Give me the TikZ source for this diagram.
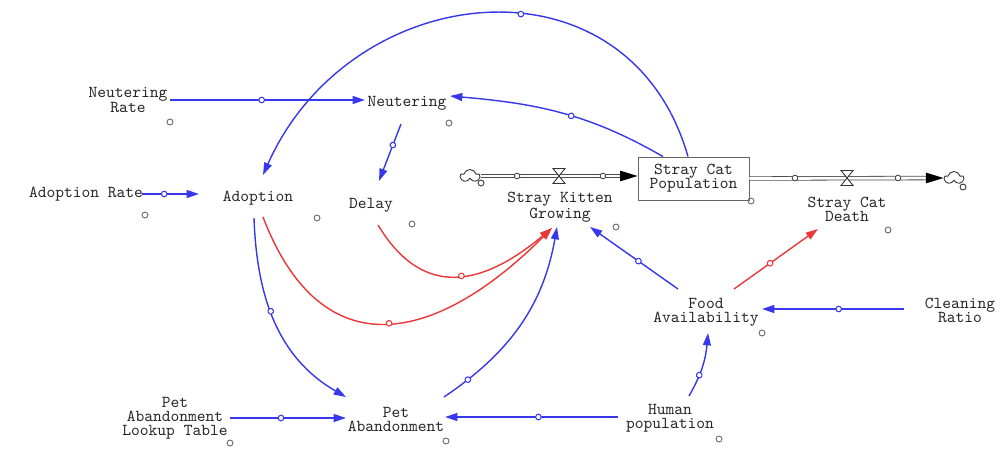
\documentclass[tikz,border=0pt]{standalone}
\usepackage{fontspec}
\usetikzlibrary{arrows.meta,shapes.symbols,decorations.markings}
\definecolor{linkBlue}{RGB}{55,55,235}
\definecolor{linkRed}{RGB}{235,55,55}
\definecolor{hintGray}{RGB}{100,100,100}

\begin{document}
\begin{tikzpicture}[x=0.02cm, y=0.02cm,
    every node/.style={font=\ttfamily\fontsize{9.5}{8.0}\selectfont, text=black!85},
    var/.style={align=center, inner sep=1pt},
    stock/.style={draw=black!60, line width=0.5pt, fill=white, align=center,
      minimum width=2.22cm, minimum height=0.86cm, inner sep=0pt},
    sink/.style={cloud, cloud puffs=5, draw=black!80, line width=0.5pt, fill=white,
      inner sep=0pt, minimum width=0.38cm, minimum height=0.26cm},
    hint/.style={circle, draw=hintGray, line width=0.5pt, inner sep=0pt, minimum size=3.4pt},
    pipe/.style={draw=black!70, line width=0.45pt, double=white, double distance=1.6pt},
    pipetip/.style={-{Triangle[length=10pt,width=6pt]}, black, line width=0.5pt},
    hub/.style={draw=black!70, fill=white, line width=0.5pt},
    valve/.style={draw=black!80, fill=white, line width=0.5pt},
    link/.style={line width=0.8pt, -{Triangle[length=7pt,width=4.5pt]},
      postaction={decorate, decoration={markings, mark=at position #1 with
        {\draw[-, fill=white, line width=0.6pt] (0,0) circle (1.6pt);}}}},
    link/.default=0.5
  ]
  \useasboundingbox (0,0) rectangle (1004,-450);

  % Variables
  \node[var] (nr) at (128,-100) {Neutering\\Rate};
  \node[var] (ne) at (407,-103) {Neutering};
  \node[var] (ar) at (86,-194) {Adoption Rate};
  \node[var] (ad) at (258,-198) {Adoption};
  \node[var] (de) at (371,-205) {Delay};
  \node[var] (kg) at (560,-207) {Stray Kitten\\Growing};
  \node[var] (cd) at (847,-209) {Stray Cat\\Death};
  \node[var] (fa) at (706,-312) {Food\\Availability};
  \node[var] (cr) at (960,-310) {Cleaning\\Ratio};
  \node[var] (hp) at (670,-418) {Human\\population};
  \node[var] (pa) at (396,-419) {Pet\\Abandonment};
  \node[var] (lt) at (175,-418) {Pet\\Abandonment\\Lookup Table};

  % Stock and clouds
  \node[stock] (pop) at (693.5,-178.5) {Stray Cat\\Population};
  \node[sink] (src) at (470,-176) {};
  \node[sink] (snk) at (954,-178) {};
  \coordinate (kin) at (src.east -| pop.west);
  \coordinate (vk) at (559,-176);
  \coordinate (vd) at (847,-178);

  % Flows
  \draw[pipe, shorten >=9pt] (src.east) -- (kin);
  \draw[pipetip] ([xshift=-10pt]kin) -- (kin);
  \draw[pipe, shorten >=9pt] (pop.east) -- (snk.west);
  \draw[pipetip] ([xshift=-10pt]snk.west) -- (snk.west);
  \draw[hub] (517,-176) circle (1.6pt);
  \draw[hub] (603,-176) circle (1.6pt);
  \draw[hub] (795,-178) circle (1.6pt);
  \draw[hub] (898,-178) circle (1.6pt);
  \draw[valve] ([shift={(-6,7.5)}]vk) -- ++(12,0) -- ++(-12,-15) -- ++(12,0) -- cycle;
  \draw[valve] ([shift={(-6,7.5)}]vd) -- ++(12,0) -- ++(-12,-15) -- ++(12,0) -- cycle;

  % Small markers
  \node[hint] (nrh) at (170,-122) {};
  \node[hint] (neh) at (449,-123) {};
  \node[hint] (arh) at (145,-215) {};
  \node[hint] (adh) at (317,-218) {};
  \node[hint] (deh) at (412,-224) {};
  \node[hint] (kgh) at (616,-227) {};
  \node[hint] (poph) at (751,-201) {};
  \node[hint] (cdh) at (888,-230) {};
  \node[hint] (fah) at (762,-333) {};
  \node[hint] (hph) at (719,-439) {};
  \node[hint] (pah) at (446,-441) {};
  \node[hint] (lth) at (230,-443) {};
  \node[hint, draw=black!80] (srch) at (481,-183) {};
  \node[hint, draw=black!80] (snkh) at (963,-187) {};

  % Links
  \draw[link=0.47, linkBlue] ([shift={(42,0)}]nr.center) -- ([shift={(-42,3)}]ne.center);
  \draw[link=0.45, linkBlue] ([shift={(-30.5,0)}]pop.north)
    to[out=150, in=-5] ([shift={(43,7)}]ne.center);
  \draw[link=0.42, linkBlue] ([shift={(-5.5,0)}]pop.north)
    to[out=106, in=66, looseness=1.3] ([shift={(5,23)}]ad.center);
  \draw[link=0.39, linkBlue] ([shift={(56,0)}]ar.center) -- ([shift={(-59,4)}]ad.center);
  \draw[link=0.37, linkBlue] ([shift={(-6,-21)}]ne.center) -- ([shift={(8,24)}]de.center);
  \draw[link=0.45, linkBlue] ([shift={(-4,-20)}]ad.center)
    to[out=-88, in=150] ([shift={(-50,22)}]pa.center);
  \draw[link=0.48, linkRed] ([shift={(5,-19)}]ad.center)
    to[out=-69, in=-135, looseness=1.45] ([shift={(-8,-21)}]kg.center);
  \draw[link=0.5, linkRed] ([shift={(7,-20)}]de.center)
    to[out=-59, in=-140, looseness=1.3] ([shift={(-8,-21)}]kg.center);
  \draw[link=0.14, linkBlue] ([shift={(48,22)}]pa.center)
    to[out=34, in=-100] ([shift={(-3,-20)}]kg.center);
  \draw[link=0.44, linkBlue] ([shift={(55,0)}]lt.center) -- ([shift={(-50,1)}]pa.center);
  \draw[link=0.46, linkBlue] ([shift={(-52,1)}]hp.center) -- ([shift={(49,2)}]pa.center);
  \draw[link=0.35, linkBlue] ([shift={(19,22)}]hp.center)
    to[out=60, in=-95] ([shift={(2,-21)}]fa.center);
  \draw[link=0.45, linkBlue] ([shift={(-28,23)}]fa.center) -- ([shift={(30,-20)}]kg.center);
  \draw[link=0.43, linkRed] ([shift={(28,23)}]fa.center) -- ([shift={(-29,-20)}]cd.center);
  \draw[link=0.46, linkBlue] ([shift={(-56,1)}]cr.center) -- ([shift={(56,3)}]fa.center);
\end{tikzpicture}
\end{document}
